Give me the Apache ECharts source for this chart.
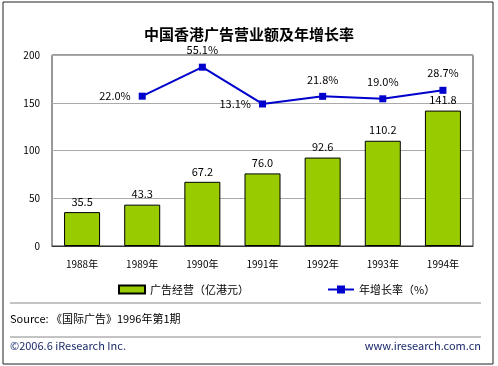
<!DOCTYPE html>
<html><head><meta charset="utf-8">
<script src="https://cdn.jsdelivr.net/npm/echarts@6/dist/echarts.min.js"></script>
<style>html,body{margin:0;padding:0;background:#fff}#c{width:498px;height:366px}</style>
</head><body><div id="c"></div>
<script>
var categories = ['1988年','1989年','1990年','1991年','1992年','1993年','1994年'];
var revenue = [35.5, 43.3, 67.2, 76.0, 92.6, 110.2, 141.8];
var growth = [null, 22.0, 55.1, 13.1, 21.8, 19.0, 28.7];
var yTicks = [0, 50, 100, 150, 200];
var growthLabelPos = [null, 'left', 'top', 'left', 'top', 'top', 'top'];

var font = '"Noto Sans CJK SC", "Liberation Sans", sans-serif';
var chart = echarts.init(document.getElementById('c'));
chart.setOption({
  animation: false,
  backgroundColor: '#fff',
  title: {text: '中国香港广告营业额及年增长率', left: 'center', top: 22,
    textStyle: {fontSize: 15, fontWeight: 'bold', color: '#000', fontFamily: font}},
  grid: {left: 52, right: 25, top: 55, bottom: 120, show: true, borderColor: '#333', borderWidth: 1},
  legend: [
    {data: [{name: '广告经营（亿港元）', icon: 'rect'}], left: 113, top: 279, itemWidth: 26, itemHeight: 8,
      itemGap: 4, textStyle: {fontSize: 11, color: '#000', fontFamily: font}},
    {data: ['年增长率（%）'], left: 322, top: 279, itemWidth: 26, itemHeight: 10,
      textStyle: {fontSize: 11, color: '#000', fontFamily: font}}
  ],
  xAxis: {type: 'category', data: categories,
    axisLine: {lineStyle: {color: '#333'}}, axisTick: {show: false},
    axisLabel: {fontSize: 10, color: '#000', margin: 13, fontFamily: font}},
  yAxis: [
    {type: 'value', min: 0, max: 200, interval: 50,
      axisLine: {show: false}, axisTick: {show: false},
      axisLabel: {fontSize: 10, color: '#000', margin: 12, fontFamily: font},
      splitLine: {lineStyle: {color: '#aaa'}}},
    {type: 'value', min: -149, max: 69, show: false, splitLine: {show: false}}
  ],
  series: [
    {name: '广告经营（亿港元）', type: 'bar', data: revenue, barWidth: 36,
      itemStyle: {color: '#99CC00', borderColor: '#000', borderWidth: 1},
      label: {show: true, position: 'top', distance: 5, fontSize: 11, color: '#000', fontFamily: font,
        formatter: function(p){return p.value.toFixed(1);}}},
    {name: '年增长率（%）', type: 'line', yAxisIndex: 1,
      data: growth.map(function(v, i){
        return {value: v, label: {position: growthLabelPos[i] || 'top'}};
      }),
      symbol: 'rect', symbolSize: 7, connectNulls: false,
      lineStyle: {color: '#0000CC', width: 2}, itemStyle: {color: '#0000CC'},
      label: {show: true, fontSize: 11, color: '#000', distance: 8, fontFamily: font,
        formatter: function(p){return p.value.toFixed(1) + '%';}}}
  ],
  graphic: [
    {type: 'rect', shape: {x: 3, y: 2, width: 490, height: 362}, style: {fill: 'none', stroke: '#222', lineWidth: 1}, silent: true},
    {type: 'line', shape: {x1: 10, y1: 303, x2: 481, y2: 303}, style: {stroke: '#888', lineWidth: 1}},
    {type: 'line', shape: {x1: 10, y1: 337, x2: 481, y2: 337}, style: {stroke: '#888', lineWidth: 1}},
    {type: 'text', left: 10, top: 313, style: {text: 'Source: 《国际广告》1996年第1期', fontSize: 11, fill: '#000', fontFamily: font}},
    {type: 'text', left: 10, top: 340, style: {text: '©2006.6 iResearch Inc.', fontSize: 11, fill: '#1a2a6a', fontFamily: font}},
    {type: 'text', right: 17, top: 340, style: {text: 'www.iresearch.com.cn', fontSize: 11, fill: '#1a2a6a', fontFamily: font}}
  ]
});
</script></body></html>
